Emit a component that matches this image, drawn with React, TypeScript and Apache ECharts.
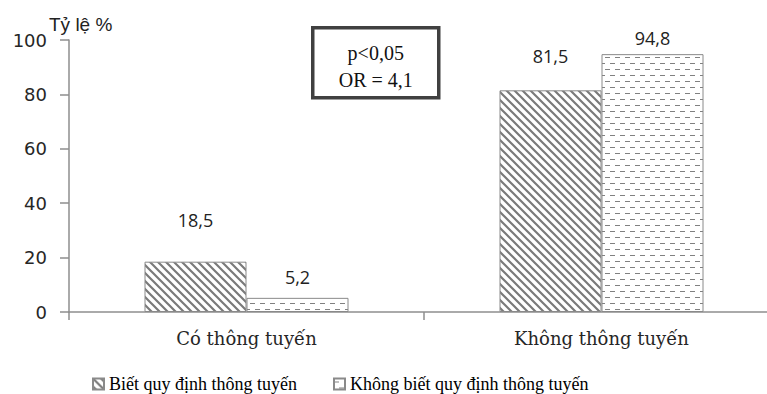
import React, { useEffect, useRef } from "react";
import * as echarts from "echarts";

// Categories and values (percent)
const categories = ["Có thông tuyến", "Không thông tuyến"];
const seriesNames = ["Biết quy định thông tuyến", "Không biết quy định thông tuyến"];
const knowsRule = [18.5, 81.5];
const notKnowsRule = [5.2, 94.8];
const yAxisTitle = "Tỷ lệ %";
const statLines = ["p<0,05", "OR = 4,1"];

// Per-bar distance between bar top and its value label
const knowsLabelGap = [33, 25];
const notKnowsLabelGap = [12, 7];

const fmt = (v: number) => String(v).replace(".", ",");

function hatchTile(): HTMLCanvasElement {
  const c = document.createElement("canvas");
  c.width = 8;
  c.height = 8;
  const ctx = c.getContext("2d")!;
  ctx.fillStyle = "#ffffff";
  ctx.fillRect(0, 0, 8, 8);
  ctx.strokeStyle = "#7a7a7a";
  ctx.lineWidth = 2.2;
  ctx.beginPath();
  ctx.moveTo(-2, -2);
  ctx.lineTo(10, 10);
  ctx.moveTo(-2, 6);
  ctx.lineTo(2, 10);
  ctx.moveTo(6, -2);
  ctx.lineTo(10, 2);
  ctx.stroke();
  return c;
}

function dashTile(): HTMLCanvasElement {
  const c = document.createElement("canvas");
  c.width = 10;
  c.height = 12;
  const ctx = c.getContext("2d")!;
  ctx.fillStyle = "#ffffff";
  ctx.fillRect(0, 0, 10, 12);
  ctx.fillStyle = "#808080";
  ctx.fillRect(0, 3, 5, 1);
  ctx.fillRect(5, 9, 5, 1);
  return c;
}

export default function App() {
  const ref = useRef<HTMLDivElement>(null);

  useEffect(() => {
    if (!ref.current) return;
    const chart = echarts.init(ref.current, undefined, { renderer: "svg" });

    const hatch = { image: hatchTile(), repeat: "repeat" };
    const dashes = { image: dashTile(), repeat: "repeat" };

    const labelBase = {
      show: true,
      position: "top",
      fontFamily: "Open Sans",
      fontSize: 18,
      color: "#222",
      formatter: (p: any) => fmt(p.value),
    };

    const legendText = {
      fontFamily: "Liberation Serif",
      fontSize: 18,
      color: "#000",
    };

    chart.setOption({
      animation: false,
      backgroundColor: "#ffffff",
      grid: {
        left: 69,
        top: 40,
        right: -12,
        bottom: 82,
        containLabel: false,
        outerBoundsMode: "none",
      },
      legend: [
        {
          data: [seriesNames[0]],
          left: 87,
          top: 370,
          icon: "rect",
          itemWidth: 11,
          itemHeight: 11,
          textStyle: legendText,
        },
        {
          data: [seriesNames[1]],
          left: 328,
          top: 370,
          icon: "rect",
          itemWidth: 11,
          itemHeight: 11,
          textStyle: legendText,
        },
      ],
      xAxis: {
        type: "category",
        data: categories,
        axisLine: { lineStyle: { color: "#8e8e8e", width: 1.5 } },
        axisTick: { show: true, length: 8, lineStyle: { color: "#8e8e8e", width: 1.5 } },
        axisLabel: {
          margin: 17,
          fontFamily: "DejaVu Serif",
          fontSize: 18,
          color: "#262626",
        },
      },
      yAxis: {
        type: "value",
        min: 0,
        max: 100,
        interval: 20,
        splitLine: { show: false },
        axisLine: { show: true, lineStyle: { color: "#8e8e8e", width: 1.5 } },
        axisTick: { show: true, length: 9, lineStyle: { color: "#8e8e8e", width: 1.5 } },
        axisLabel: {
          margin: 22,
          fontFamily: "DejaVu Sans",
          fontSize: 18,
          color: "#262626",
        },
      },
      series: [
        {
          name: seriesNames[0],
          type: "bar",
          barWidth: 102,
          barGap: "0%",
          data: knowsRule.map((v, i) => ({
            value: v,
            label: { distance: knowsLabelGap[i] },
          })),
          itemStyle: { color: hatch, borderColor: "#8a8a8a", borderWidth: 1 },
          label: labelBase,
        },
        {
          name: seriesNames[1],
          type: "bar",
          barWidth: 102,
          barGap: "0%",
          data: notKnowsRule.map((v, i) => ({
            value: v,
            label: { distance: notKnowsLabelGap[i] },
          })),
          itemStyle: { color: dashes, borderColor: "#8a8a8a", borderWidth: 1 },
          label: labelBase,
        },
      ],
      graphic: [
        {
          type: "text",
          left: 49,
          top: 15,
          style: {
            text: yAxisTitle,
            fontFamily: "Liberation Sans",
            fontSize: 19,
            fill: "#222",
          },
        },
        {
          type: "group",
          left: 311,
          top: 26,
          children: [
            {
              type: "rect",
              shape: { x: 0, y: 0, width: 126, height: 70 },
              style: { fill: "#ffffff", stroke: "#404040", lineWidth: 3.5 },
            },
            {
              type: "text",
              x: 63,
              y: 25,
              style: {
                text: statLines[0],
                fontFamily: "Liberation Serif",
                fontSize: 20,
                fill: "#111",
                align: "center",
                verticalAlign: "middle",
              },
            },
            {
              type: "text",
              x: 63,
              y: 52,
              style: {
                text: statLines[1],
                fontFamily: "Liberation Serif",
                fontSize: 20,
                fill: "#111",
                align: "center",
                verticalAlign: "middle",
              },
            },
          ],
        },
      ],
    });

    return () => chart.dispose();
  }, []);

  return (
    <div
      ref={ref}
      style={{ position: "fixed", left: 0, top: 0, width: 767, height: 394 }}
    />
  );
}
